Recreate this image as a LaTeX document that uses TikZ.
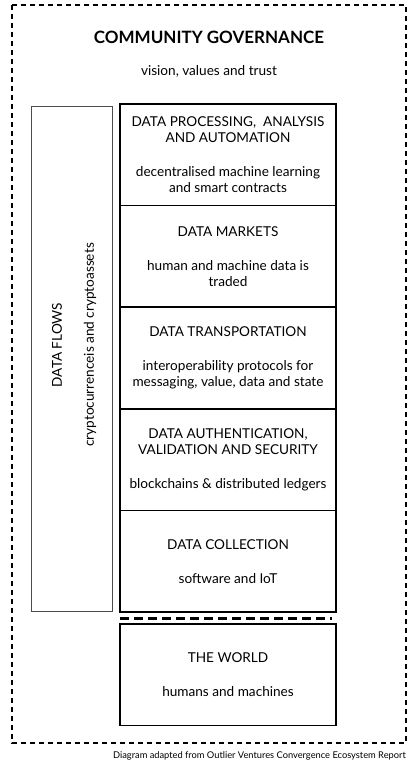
\documentclass[tikz,border=0pt]{standalone}
\usepackage{fontspec}
\setmainfont{Lato}
\usetikzlibrary{positioning}

\begin{document}
\begin{tikzpicture}[x=1pt,y=-1pt,
        layer/.style={draw,line width=1.6pt,minimum width=216pt,minimum height=101.6pt,
          align=center,font=\fontsize{13.6}{16}\selectfont,inner sep=0pt,outer sep=0pt},
        flowbox/.style={draw=black!70,line width=0.9pt,minimum width=81pt,minimum height=505pt},
        outer/.style={line width=1.6pt,dash pattern=on 5pt off 4pt}]
        \useasboundingbox (0,0) rectangle (417,763);
        % outer frame and header
        \draw[outer] (12,5) rectangle (406,743);
        \node[font=\fontsize{17}{20}\selectfont\bfseries] (gov) at (209,37) {COMMUNITY GOVERNANCE};
        \node[font=\fontsize{13.6}{16}\selectfont] (vision) at (209,71) {vision, values and trust};
        % data flows column
        \node[flowbox] (flows) at (71.5,358.5) {};
        \node[rotate=90,align=center,font=\fontsize{13.6}{16}\selectfont] (flowstext) at (74,345)
          {DATA FLOWS\\[16pt]cryptocurrenceis and cryptoassets};
        % the stack
        \node[layer,anchor=north] (proc) at (228,104) {DATA PROCESSING,~ ANALYSIS\\AND AUTOMATION\\[18pt]decentralised machine learning\\and smart contracts};
        \node[layer,below=0pt of proc] (markets) {DATA MARKETS\\[18pt]human and machine data is\\traded};
        \node[layer,below=0pt of markets] (transport) {DATA TRANSPORTATION\\[18pt]interoperability protocols for\\messaging, value, data and state};
        \node[layer,below=0pt of transport] (auth) {DATA AUTHENTICATION,\\VALIDATION AND SECURITY\\[18pt]blockchains \& distributed ledgers};
        \node[layer,below=0pt of auth] (collect) {DATA COLLECTION\\[18pt]software and IoT};
        \node[layer,below=12pt of collect] (world) {THE WORLD\\[18pt]humans and machines};
        \coordinate (sepl) at ([yshift=-6.5pt]collect.south west);
        \coordinate (sepr) at ([xshift=-4pt,yshift=-6.5pt]collect.south east);
        \draw[line width=2.6pt,dash pattern=on 9pt off 5pt] (sepl) -- (sepr);
        \node[anchor=base east,font=\fontsize{9.3}{11}\selectfont,inner sep=0pt] (credit) at (406,758)
          {Diagram adapted from Outlier Ventures Convergence Ecosystem Report};
\end{tikzpicture}
\end{document}
